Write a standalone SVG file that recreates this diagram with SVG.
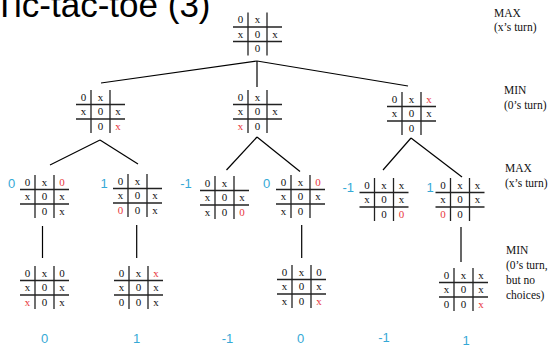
<svg xmlns="http://www.w3.org/2000/svg" xmlns:xlink="http://www.w3.org/1999/xlink" width="554" height="351" viewBox="0 0 554 351">
<style>
.gl{stroke:#222;stroke-width:1.3;fill:none}
.e{stroke:#000;stroke-width:1.2;fill:none}
.c{font-family:"Liberation Serif","Times New Roman",serif;font-size:11px;fill:#111;text-anchor:middle}
.r{fill:#e8383d}
.v{font-family:"Liberation Sans",Arial,sans-serif;font-size:13px;fill:#35a9d6;text-anchor:middle}
.lbl{font-family:"Liberation Serif","Times New Roman",serif;font-size:11.5px;fill:#111}
.t{font-family:"Liberation Sans",Arial,sans-serif;font-size:35px;fill:#000}
</style>
<defs>
<g id="grid">
<line class="gl" x1="0" y1="14.5" x2="49" y2="14.5"/>
<line class="gl" x1="0" y1="29" x2="49" y2="29"/>
<line class="gl" x1="15" y1="0" x2="15" y2="43"/>
<line class="gl" x1="34" y1="0" x2="34" y2="43"/>
</g>
</defs>
<rect width="554" height="351" fill="#fff"/>
<text class="t" x="-6" y="17">Tic-tac-toe (3)</text>

<g id="labels">
<text class="lbl" x="494" y="16.5">MAX</text>
<text class="lbl" x="494" y="31">(x’s turn)</text>
<text class="lbl" x="504" y="94">MIN</text>
<text class="lbl" x="504" y="109">(0’s turn)</text>
<text class="lbl" x="505" y="171.5">MAX</text>
<text class="lbl" x="505" y="187">(x’s turn)</text>
<text class="lbl" x="506" y="253.5">MIN</text>
<text class="lbl" x="506" y="269">(0’s turn,</text>
<text class="lbl" x="506" y="284">but no</text>
<text class="lbl" x="506" y="298.5">choices)</text>
</g>

<g id="connectors">
<line class="e" x1="257" y1="61" x2="101" y2="83"/>
<line class="e" x1="257" y1="61" x2="257" y2="87"/>
<line class="e" x1="257" y1="61" x2="408" y2="86"/>
<line class="e" x1="100" y1="140" x2="50" y2="165"/>
<line class="e" x1="100" y1="140" x2="138" y2="164"/>
<line class="e" x1="257" y1="137" x2="226.5" y2="170"/>
<line class="e" x1="257" y1="137" x2="300" y2="171.5"/>
<line class="e" x1="411" y1="138" x2="383" y2="170"/>
<line class="e" x1="411" y1="138" x2="462" y2="177"/>
<line class="e" x1="42.5" y1="226" x2="42.5" y2="258"/>
<line class="e" x1="136.7" y1="225" x2="136.7" y2="258"/>
<line class="e" x1="301.7" y1="225" x2="301.7" y2="258"/>
<line class="e" x1="461" y1="227" x2="461" y2="262"/>
</g>

<g id="n-root" transform="translate(233,12.5)">
<use xlink:href="#grid"/>
<text class="c" x="7.5" y="10.5">0</text><text class="c" x="24.5" y="10.5">x</text>
<text class="c" x="7.5" y="25">x</text><text class="c" x="24.5" y="25">0</text><text class="c" x="42" y="25">x</text>
<text class="c" x="24.5" y="39.5">0</text>
</g>

<g id="n-a" transform="translate(76,90)">
<use xlink:href="#grid"/>
<text class="c" x="7.5" y="10.5">0</text><text class="c" x="24.5" y="10.5">x</text>
<text class="c" x="7.5" y="25">x</text><text class="c" x="24.5" y="25">0</text><text class="c" x="42" y="25">x</text>
<text class="c" x="24.5" y="39.5">0</text><text class="c r" x="42" y="39.5">x</text>
</g>

<g id="n-b" transform="translate(233,90)">
<use xlink:href="#grid"/>
<text class="c" x="7.5" y="10.5">0</text><text class="c" x="24.5" y="10.5">x</text>
<text class="c" x="7.5" y="25">x</text><text class="c" x="24.5" y="25">0</text><text class="c" x="42" y="25">x</text>
<text class="c r" x="7.5" y="39.5">x</text><text class="c" x="24.5" y="39.5">0</text>
</g>

<g id="n-c" transform="translate(387,92)">
<use xlink:href="#grid"/>
<text class="c" x="7.5" y="10.5">0</text><text class="c" x="24.5" y="10.5">x</text><text class="c r" x="42" y="10.5">x</text>
<text class="c" x="7.5" y="25">x</text><text class="c" x="24.5" y="25">0</text><text class="c" x="42" y="25">x</text>
<text class="c" x="24.5" y="39.5">0</text>
</g>

<g id="n-a1">
<text class="v" x="11.7" y="187.5">0</text>
<g transform="translate(20,175)">
<use xlink:href="#grid"/>
<text class="c" x="7.5" y="10.5">0</text><text class="c" x="24.5" y="10.5">x</text><text class="c r" x="42" y="10.5">0</text>
<text class="c" x="7.5" y="25">x</text><text class="c" x="24.5" y="25">0</text><text class="c" x="42" y="25">x</text>
<text class="c" x="24.5" y="39.5">0</text><text class="c" x="42" y="39.5">x</text>
</g>
</g>

<g id="n-a2">
<text class="v" x="104" y="187.5">1</text>
<g transform="translate(113,174)">
<use xlink:href="#grid"/>
<text class="c" x="7.5" y="10.5">0</text><text class="c" x="24.5" y="10.5">x</text>
<text class="c" x="7.5" y="25">x</text><text class="c" x="24.5" y="25">0</text><text class="c" x="42" y="25">x</text>
<text class="c r" x="7.5" y="39.5">0</text><text class="c" x="24.5" y="39.5">0</text><text class="c" x="42" y="39.5">x</text>
</g>
</g>

<g id="n-b1">
<text class="v" x="186" y="187.5">-1</text>
<g transform="translate(200,176)">
<use xlink:href="#grid"/>
<text class="c" x="7.5" y="10.5">0</text><text class="c" x="24.5" y="10.5">x</text>
<text class="c" x="7.5" y="25">x</text><text class="c" x="24.5" y="25">0</text><text class="c" x="42" y="25">x</text>
<text class="c" x="7.5" y="39.5">x</text><text class="c" x="24.5" y="39.5">0</text><text class="c r" x="42" y="39.5">0</text>
</g>
</g>

<g id="n-b2">
<text class="v" x="266.7" y="187.5">0</text>
<g transform="translate(276,175)">
<use xlink:href="#grid"/>
<text class="c" x="7.5" y="10.5">0</text><text class="c" x="24.5" y="10.5">x</text><text class="c r" x="42" y="10.5">0</text>
<text class="c" x="7.5" y="25">x</text><text class="c" x="24.5" y="25">0</text><text class="c" x="42" y="25">x</text>
<text class="c" x="7.5" y="39.5">x</text><text class="c" x="24.5" y="39.5">0</text>
</g>
</g>

<g id="n-c1">
<text class="v" x="348.3" y="191.5">-1</text>
<g transform="translate(359.5,178)">
<use xlink:href="#grid"/>
<text class="c" x="7.5" y="10.5">0</text><text class="c" x="24.5" y="10.5">x</text><text class="c" x="42" y="10.5">x</text>
<text class="c" x="7.5" y="25">x</text><text class="c" x="24.5" y="25">0</text><text class="c" x="42" y="25">x</text>
<text class="c" x="24.5" y="39.5">0</text><text class="c r" x="42" y="39.5">0</text>
</g>
</g>

<g id="n-c2">
<text class="v" x="430" y="191.5">1</text>
<g transform="translate(435.5,178)">
<use xlink:href="#grid"/>
<text class="c" x="7.5" y="10.5">0</text><text class="c" x="24.5" y="10.5">x</text><text class="c" x="42" y="10.5">x</text>
<text class="c" x="7.5" y="25">x</text><text class="c" x="24.5" y="25">0</text><text class="c" x="42" y="25">x</text>
<text class="c r" x="7.5" y="39.5">0</text><text class="c" x="24.5" y="39.5">0</text>
</g>
</g>

<g id="n-a1x" transform="translate(20,266)">
<use xlink:href="#grid"/>
<text class="c" x="7.5" y="10.5">0</text><text class="c" x="24.5" y="10.5">x</text><text class="c" x="42" y="10.5">0</text>
<text class="c" x="7.5" y="25">x</text><text class="c" x="24.5" y="25">0</text><text class="c" x="42" y="25">x</text>
<text class="c r" x="7.5" y="39.5">x</text><text class="c" x="24.5" y="39.5">0</text><text class="c" x="42" y="39.5">x</text>
</g>

<g id="n-a2x" transform="translate(114,266)">
<use xlink:href="#grid"/>
<text class="c" x="7.5" y="10.5">0</text><text class="c" x="24.5" y="10.5">x</text><text class="c r" x="42" y="10.5">x</text>
<text class="c" x="7.5" y="25">x</text><text class="c" x="24.5" y="25">0</text><text class="c" x="42" y="25">x</text>
<text class="c" x="7.5" y="39.5">0</text><text class="c" x="24.5" y="39.5">0</text><text class="c" x="42" y="39.5">x</text>
</g>

<g id="n-b2x" transform="translate(277,265)">
<use xlink:href="#grid"/>
<text class="c" x="7.5" y="10.5">0</text><text class="c" x="24.5" y="10.5">x</text><text class="c" x="42" y="10.5">0</text>
<text class="c" x="7.5" y="25">x</text><text class="c" x="24.5" y="25">0</text><text class="c" x="42" y="25">x</text>
<text class="c" x="7.5" y="39.5">x</text><text class="c" x="24.5" y="39.5">0</text><text class="c r" x="42" y="39.5">x</text>
</g>

<g id="n-c2x" transform="translate(439,268)">
<use xlink:href="#grid"/>
<text class="c" x="7.5" y="10.5">0</text><text class="c" x="24.5" y="10.5">x</text><text class="c" x="42" y="10.5">x</text>
<text class="c" x="7.5" y="25">x</text><text class="c" x="24.5" y="25">0</text><text class="c" x="42" y="25">x</text>
<text class="c" x="7.5" y="39.5">0</text><text class="c" x="24.5" y="39.5">0</text><text class="c r" x="42" y="39.5">x</text>
</g>

<g id="leaf-values">
<text class="v" x="44.7" y="343">0</text>
<text class="v" x="136.7" y="343">1</text>
<text class="v" x="227.5" y="343">-1</text>
<text class="v" x="300.5" y="343">0</text>
<text class="v" x="384" y="342">-1</text>
<text class="v" x="466" y="345">1</text>
</g>
</svg>
